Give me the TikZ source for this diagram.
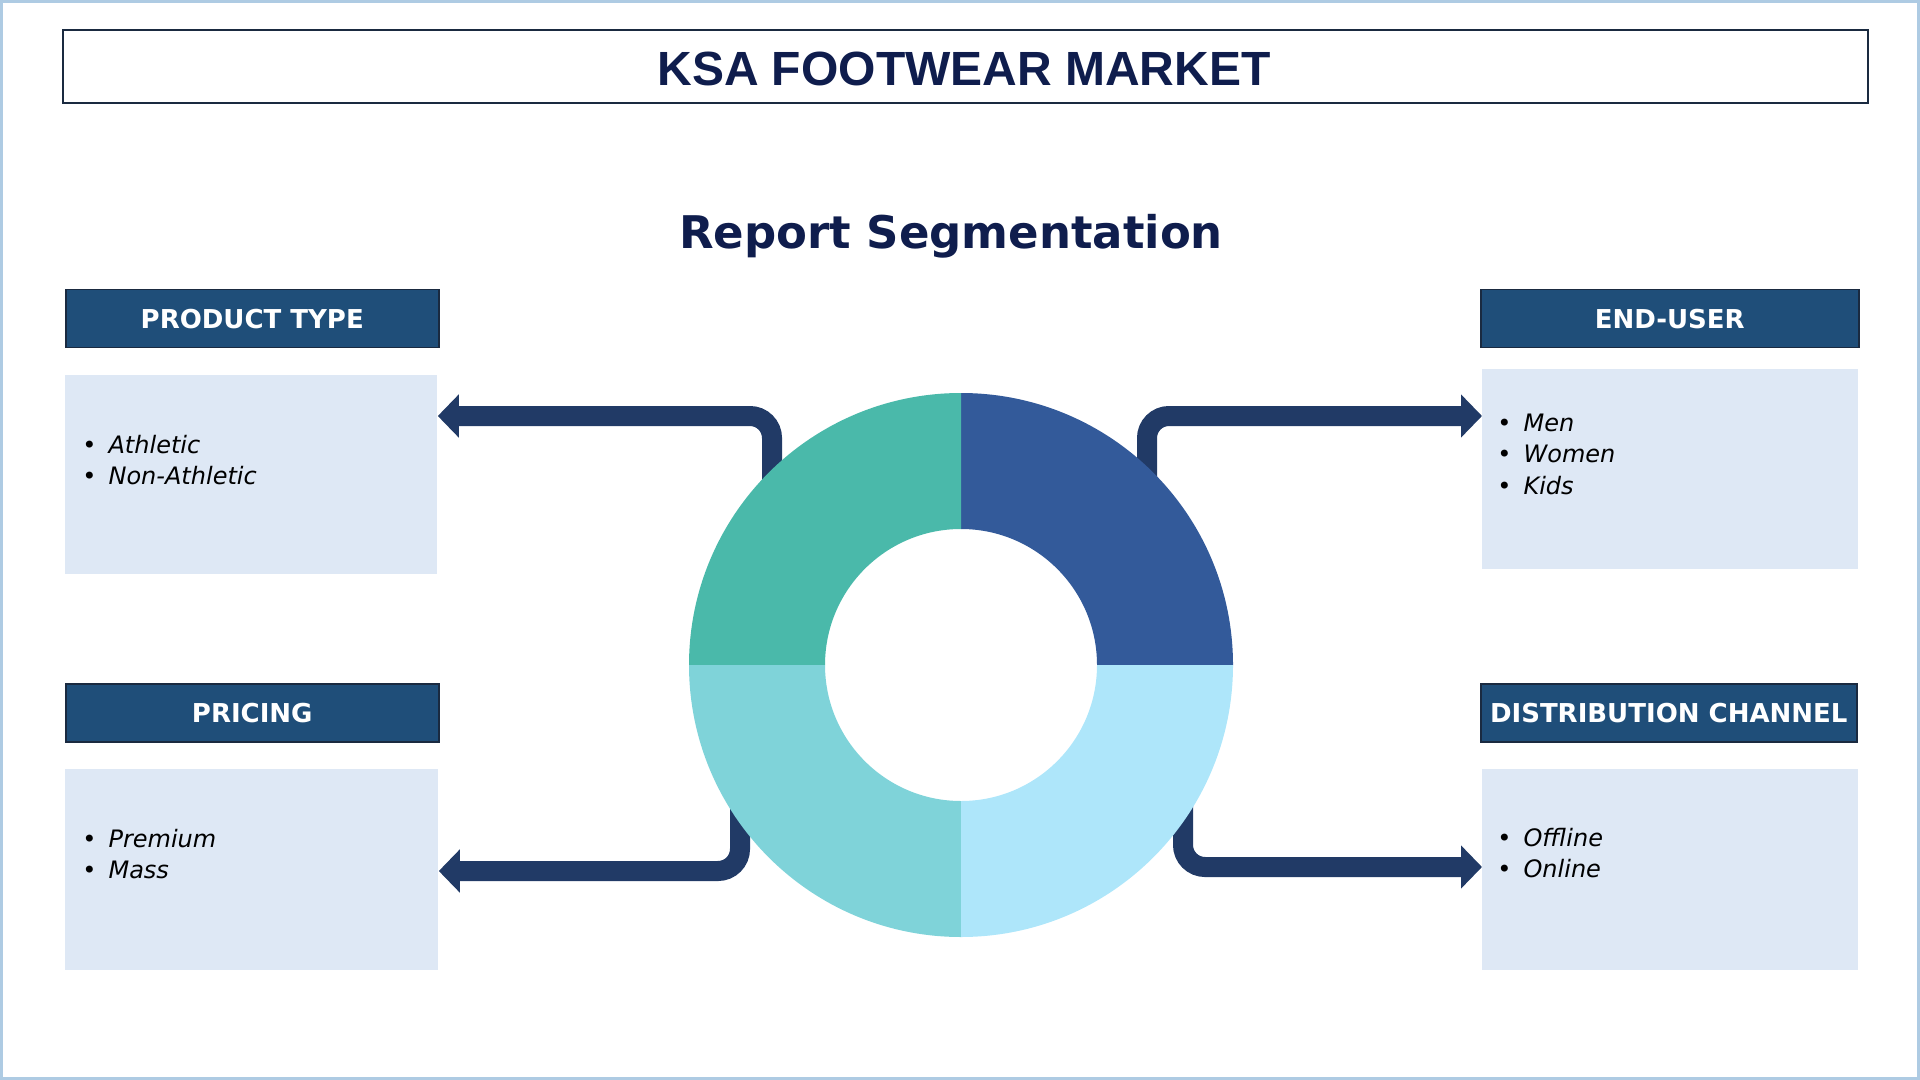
\documentclass[tikz,border=0pt]{standalone}
\usepackage{fontspec}
\setmainfont{DejaVu Sans}
\newfontfamily\titlefont{Liberation Sans}
\usetikzlibrary{arrows.meta}
\definecolor{frameblue}{HTML}{AECBE3}
\definecolor{navy}{HTML}{0F1D4D}
\definecolor{hdrfill}{HTML}{1F4E79}
\definecolor{hdrline}{HTML}{1A2A40}
\definecolor{boxfill}{HTML}{DEE8F5}
\definecolor{connblue}{HTML}{213A66}
\definecolor{segtr}{HTML}{335A9A}
\definecolor{segtl}{HTML}{4AB9AA}
\definecolor{segbl}{HTML}{7FD3D9}
\definecolor{segbr}{HTML}{AEE6FA}
\tikzset{
  hdr/.style={draw=hdrline, line width=0.75pt, fill=hdrfill, text=white,
    font=\bfseries\fontsize{13}{15}\selectfont, inner sep=0pt,
    anchor=north west, minimum height=29pt},
  segbox/.style={fill=boxfill, inner sep=0pt, anchor=north west},
  item/.style={anchor=base west, inner sep=0pt, text=black,
    font=\fontsize{12}{15}\selectfont},
  conn/.style={draw=connblue, line width=10pt, rounded corners=11pt,
    -{Triangle[length=10.5pt,width=21pt]}},
}
\begin{document}
\begin{tikzpicture}[x=0.5pt, y=-0.5pt]
      \useasboundingbox (0,0) rectangle (1920,1080);
      \draw [frameblue, line width=1.5pt] (1.5,1.5) rectangle (1918.5,1078.5);
      % title
      \node [draw=hdrline, line width=1pt, inner sep=0pt, anchor=north west,
        minimum width=902.5pt, minimum height=36.5pt] (titlebox) at (62,29) {};
      \node [anchor=base, text=navy, font=\titlefont\bfseries\fontsize{24}{28}\selectfont]
        (title) at (964,86) {KSA FOOTWEAR MARKET};
      \node [anchor=base, text=navy, font=\bfseries\fontsize{22.5}{27}\selectfont]
        (sub) at (951,249) {Report Segmentation};
      % headers and boxes
      \node [hdr, minimum width=186.5pt] (prodH) at (65,289) {PRODUCT TYPE};
      \node [segbox, minimum width=186pt, minimum height=99.5pt] (prodB) at (65,375) {};
      \node [hdr, minimum width=186.5pt] (priceH) at (65,683) {PRICING};
      \node [segbox, minimum width=186.5pt, minimum height=100.5pt] (priceB) at (65,769) {};
      \node [hdr, minimum width=189pt] (endH) at (1480,289) {END-USER};
      \node [segbox, minimum width=188pt, minimum height=100pt] (endB) at (1482,369) {};
      \node [hdr, minimum width=188pt] (distH) at (1480,683) {DISTRIBUTION CHANNEL};
      \node [segbox, minimum width=188pt, minimum height=100.5pt] (distB) at (1482,769) {};
      % items
      \node [item] (prod1) at (82,453) {•\hspace{6pt}\textit{Athletic}};
      \node [item] (prod2) at (82,484) {•\hspace{6pt}\textit{Non-Athletic}};
      \node [item] (price1) at (82,847) {•\hspace{6pt}\textit{Premium}};
      \node [item] (price2) at (82,878) {•\hspace{6pt}\textit{Mass}};
      \node [item] (end1) at (1497,431) {•\hspace{6pt}\textit{Men}};
      \node [item] (end2) at (1497,462) {•\hspace{6pt}\textit{Women}};
      \node [item] (end3) at (1497,494) {•\hspace{6pt}\textit{Kids}};
      \node [item] (dist1) at (1497,846) {•\hspace{6pt}\textit{Offline}};
      \node [item] (dist2) at (1497,877) {•\hspace{6pt}\textit{Online}};
      % connectors
      \coordinate (cen) at (961,665);
      \coordinate (tlS) at (772,490);
      \coordinate (trS) at (1147,490);
      \coordinate (blS) at (740,800);
      \coordinate (brS) at (1183,800);
      \draw [conn] (tlS) |- (prodB.east |- 0,416);
      \draw [conn] (trS) |- (endB.west |- 0,416);
      \draw [conn] (blS) |- (priceB.east |- 0,871);
      \draw [conn] (brS) |- (distB.west |- 0,867);
      % donut
      \fill [segtr] (cen) ++(0:136pt) arc [start angle=0, end angle=90, radius=136pt]
        -- ++(90:-68pt) arc [start angle=90, end angle=0, radius=68pt] -- cycle;
      \fill [segtl] (cen) ++(90:136pt) arc [start angle=90, end angle=180, radius=136pt]
        -- ++(180:-68pt) arc [start angle=180, end angle=90, radius=68pt] -- cycle;
      \fill [segbl] (cen) ++(180:136pt) arc [start angle=180, end angle=270, radius=136pt]
        -- ++(270:-68pt) arc [start angle=270, end angle=180, radius=68pt] -- cycle;
      \fill [segbr] (cen) ++(270:136pt) arc [start angle=270, end angle=360, radius=136pt]
        -- ++(360:-68pt) arc [start angle=360, end angle=270, radius=68pt] -- cycle;
    \end{tikzpicture}
\end{document}
